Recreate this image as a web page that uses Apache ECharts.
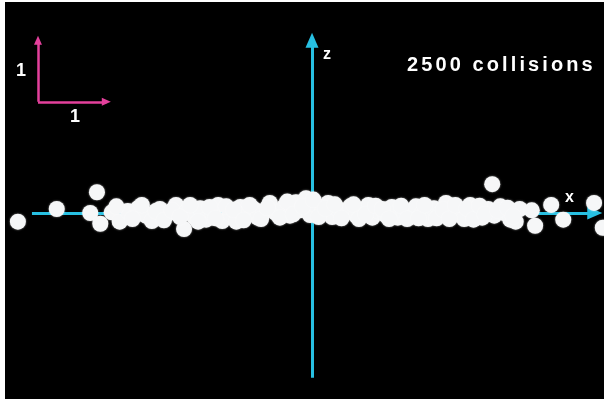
<!DOCTYPE html>
<html>
<head>
<meta charset="utf-8">
<script src="https://cdn.jsdelivr.net/npm/echarts@6/dist/echarts.min.js"></script>
<style>
  html, body { margin: 0; padding: 0; background: #fff; }
  #chart { width: 604px; height: 399px; }
</style>
</head>
<body>
<div id="chart"></div>
<script>
// Collision end points projected onto the x–z plane (units of the scale bar)
const xValues = [-4.39, -3.81, -3.21, -3.31, -3.16, -2.99, -2.87, -2.75, -2.60, -2.48,
  -2.39, -2.27, -2.15, -2.03, -1.91, -1.88, -1.76, -1.67, -1.58, -1.49,
  -1.40, -1.34, -1.22, -1.13, -1.07, -0.99, -0.87, -0.81, -0.72, -0.63,
  -0.54, -0.42, -0.33, -0.24, -0.18, -0.09, -0.03, 0.06, 0.15, 0.24,
  0.30, 0.39, 0.48, 0.57, 0.66, 0.75, 0.84, 0.90, 0.99, 1.10,
  1.19, 1.28, 1.37, 1.46, 1.55, 1.64, 1.73, 1.82, 1.91, 2.00,
  2.09, 2.18, 2.27, 2.36, 2.45, 2.54, 2.63, 2.69, 2.72, 2.81,
  2.87, 2.96, 3.04, 3.10, 3.28, 3.33, 3.57, 3.75, 4.21, 4.34,
  -2.92, -2.68, -2.54, -2.33, -2.21, -2.09, -1.97, -1.82, -1.70, -1.53,
  -1.44, -1.28, -1.17, -1.02, -0.93, -0.76, -0.67, -0.48, -0.37, -0.28,
  -0.14, 0.02, 0.10, 0.20, 0.34, 0.44, 0.62, 0.70, 0.80, 0.95,
  1.05, 1.15, 1.33, 1.42, 1.59, 1.68, 1.86, 1.96, 2.05, 2.14,
  2.31, 2.41, 2.50, 2.58, 2.77, 2.92, 3.00];
const zValues = [-0.13, 0.06, 0.31, 0.00, -0.16, 0.01, -0.13, 0.03, 0.07, -0.04,
  -0.12, 0.06, -0.01, 0.12, -0.24, 0.01, -0.06, 0.07, -0.10, 0.01,
  0.12, -0.12, -0.01, -0.13, 0.09, -0.01, 0.06, -0.07, 0.01, 0.15,
  0.00, 0.09, -0.04, 0.16, 0.04, 0.22, -0.03, 0.12, 0.01, 0.15,
  -0.06, 0.06, -0.01, 0.10, -0.04, 0.04, 0.12, -0.07, 0.03, -0.03,
  0.09, -0.07, 0.03, -0.06, 0.10, -0.01, -0.09, 0.07, -0.01, 0.15,
  -0.04, 0.04, -0.09, 0.12, 0.00, -0.07, 0.06, 0.43, -0.04, 0.10,
  0.00, -0.10, -0.13, 0.06, 0.04, -0.19, 0.12, -0.10, 0.15, -0.22,
  0.10, -0.09, 0.12, 0.03, -0.11, 0.04, -0.06, 0.12, -0.13, 0.09,
  -0.08, 0.10, 0.05, -0.11, 0.12, -0.09, 0.08, -0.07, 0.17, -0.02,
  0.10, 0.20, -0.06, 0.07, 0.13, -0.08, 0.13, -0.09, -0.02, 0.11,
  0.06, -0.09, 0.11, -0.09, -0.08, 0.12, -0.08, 0.05, -0.09, 0.12,
  0.07, -0.10, 0.11, -0.02, 0.04, 0.08, -0.05];

// Visible window of the plane
const xRange = [-4.657, 4.358];
const zRange = [-2.776, 3.179];

// Coordinate axes drawn through the origin
const xAxisSpan = [-4.18, 4.22];
const zAxisSpan = [-2.46, 2.58];

// Unit scale bar in the top-left corner
const scaleCorner = [-4.09, 1.66];
const scaleLength = 1;

const title = '2500 collisions';

const CYAN = '#27c0e2';
const MAGENTA = '#e4409c';

const points = xValues.map((x, i) => [x, zValues[i]]);

const chart = echarts.init(document.getElementById('chart'), null, { renderer: 'canvas' });

// Spaced-out title drawn one glyph at a time
const measure = document.createElement('canvas').getContext('2d');
const titleFont = 'bold 20px "Liberation Sans", Arial, sans-serif';
measure.font = titleFont;
const titleGraphics = [];
let cursor = 407;
for (const ch of title) {
  titleGraphics.push({
    type: 'text', left: cursor, top: 55, silent: true,
    style: { text: ch, fill: '#fff', font: titleFont }
  });
  cursor += measure.measureText(ch).width + 3.1;
}

const arrowLine = (from, to, color, width, size) => ({
  symbol: ['none', 'triangle'],
  symbolSize: size,
  lineStyle: { color, width, type: 'solid' },
  data: [[{ coord: from }, { coord: to }]],
  label: { show: false },
  silent: true,
  animation: false
});

chart.setOption({
  backgroundColor: '#000',
  animation: false,
  grid: { left: 0, right: 0, top: 0, bottom: 0 },
  xAxis: { type: 'value', min: xRange[0], max: xRange[1], show: false },
  yAxis: { type: 'value', min: zRange[0], max: zRange[1], show: false },
  series: [
    {
      type: 'line', data: [], silent: true,
      markLine: arrowLine([xAxisSpan[0], 0], [xAxisSpan[1], 0], CYAN, 3, [13, 15])
    },
    {
      type: 'line', data: [], silent: true,
      markLine: arrowLine([0, zAxisSpan[0]], [0, zAxisSpan[1]], CYAN, 3, [13, 15])
    },
    {
      type: 'line', data: [], silent: true,
      markLine: arrowLine(scaleCorner, [scaleCorner[0], scaleCorner[1] + scaleLength * 0.92], MAGENTA, 2.5, [8, 9])
    },
    {
      type: 'line', data: [], silent: true,
      markLine: arrowLine(scaleCorner, [scaleCorner[0] + scaleLength * 1.02, scaleCorner[1]], MAGENTA, 2.5, [8, 9])
    },
    {
      type: 'scatter',
      data: points,
      symbolSize: 16,
      itemStyle: {
        color: '#f6f7f8',
        opacity: 1,
        shadowBlur: 2,
        shadowColor: 'rgba(255,255,255,0.6)'
      },
      z: 5
    }
  ],
  graphic: [
    { type: 'rect', left: 0, top: 0, shape: { width: 5, height: 399 }, style: { fill: '#fff' }, z: 100 },
    { type: 'rect', left: 0, top: 0, shape: { width: 604, height: 2 }, style: { fill: '#fff' }, z: 100 },
    { type: 'text', left: 16, top: 62, style: { text: '1', fill: '#fff', font: 'bold 18px "Liberation Sans", Arial, sans-serif' } },
    { type: 'text', left: 70, top: 108, style: { text: '1', fill: '#fff', font: 'bold 18px "Liberation Sans", Arial, sans-serif' } },
    { type: 'text', left: 323, top: 47, style: { text: 'z', fill: '#fff', font: 'bold 16px "Liberation Sans", Arial, sans-serif' } },
    { type: 'text', left: 565, top: 190, style: { text: 'x', fill: '#fff', font: 'bold 16px "Liberation Sans", Arial, sans-serif' } },
    ...titleGraphics
  ]
});
</script>
</body>
</html>
